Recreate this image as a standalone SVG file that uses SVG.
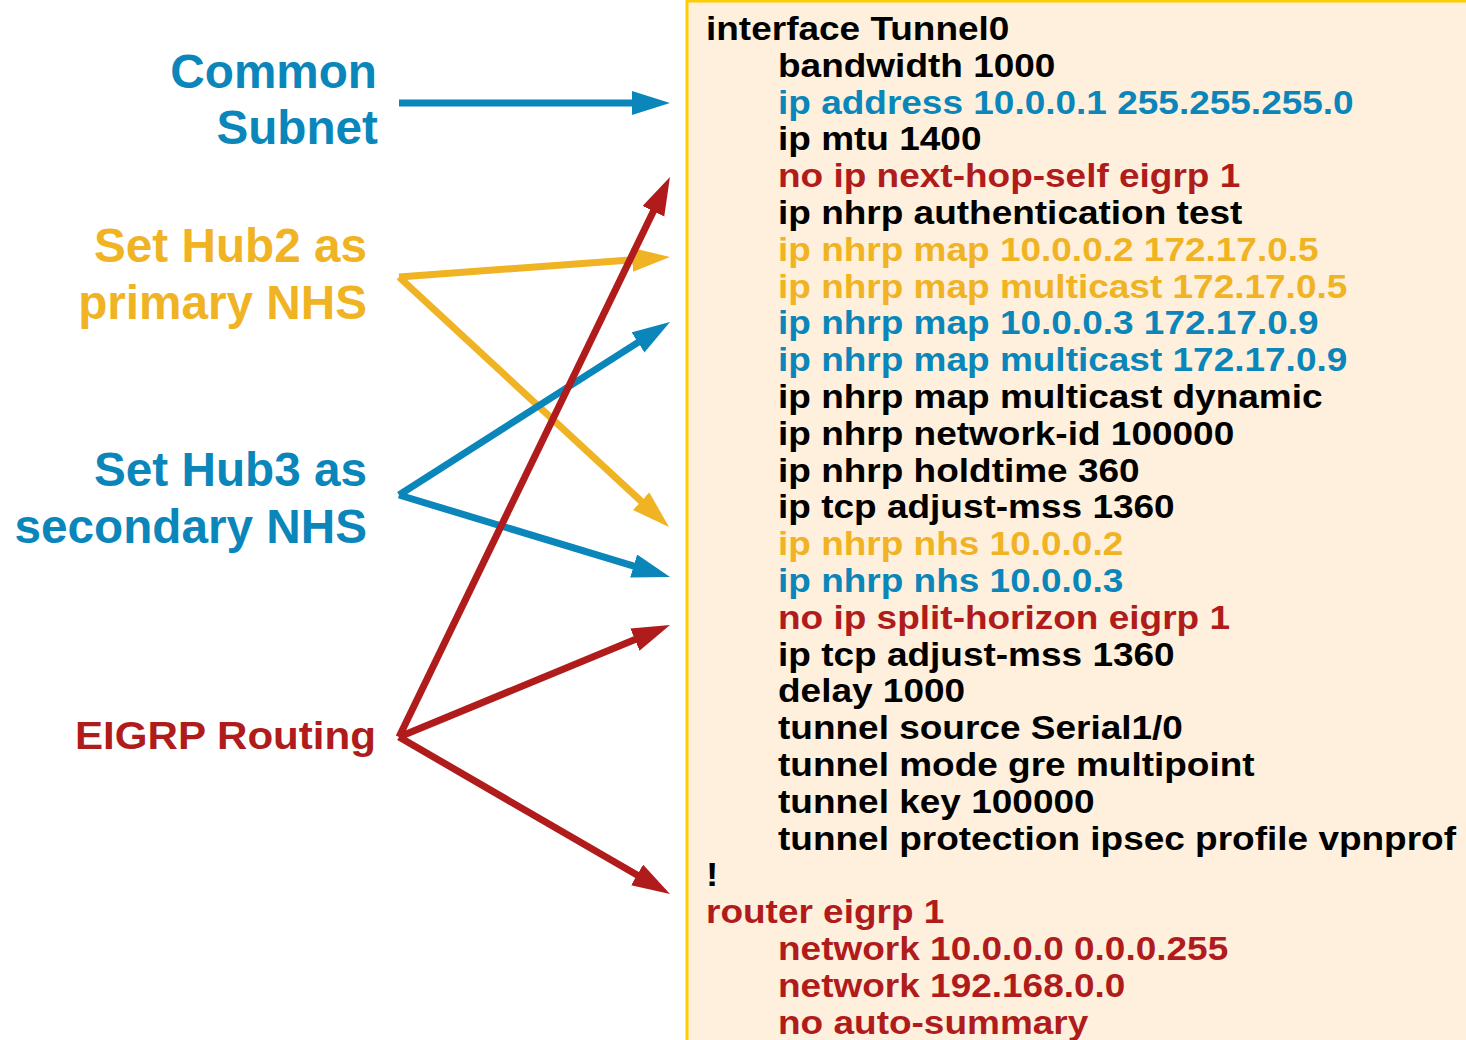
<svg xmlns="http://www.w3.org/2000/svg" width="1466" height="1040" viewBox="0 0 1466 1040">
<style>
text{font-family:"Liberation Sans",Arial,sans-serif;font-weight:bold}
.lbl{font-size:47.7px;text-anchor:end}
.cfg{font-size:34px}
.k{fill:#000}
.b{fill:#0A86BA}
.y{fill:#F0B323}
.r{fill:#B01B1B}
.ln{fill:none;stroke-width:7}
</style>
<defs>
<marker id="mb" markerUnits="userSpaceOnUse" markerWidth="40" markerHeight="26" refX="8" refY="12" orient="auto"><path d="M0,0 L38,12 L0,24 z" fill="#0A86BA"/></marker>
<marker id="my" markerUnits="userSpaceOnUse" markerWidth="40" markerHeight="26" refX="8" refY="12" orient="auto"><path d="M0,0 L38,12 L0,24 z" fill="#F0B323"/></marker>
<marker id="mr" markerUnits="userSpaceOnUse" markerWidth="40" markerHeight="26" refX="8" refY="12" orient="auto"><path d="M0,0 L38,12 L0,24 z" fill="#B01B1B"/></marker>
</defs>
<rect width="1466" height="1040" fill="#fff"/>
<g id="config-box">
<rect x="687" y="1" width="800" height="1100" fill="#FEF0DC" stroke="#FFCC00" stroke-width="3"/>
<g class="cfg" transform="matrix(1.088,0,0,1,0,0)">
<text x="648.9" y="40" class="k">interface Tunnel0</text>
<text x="715.1" y="76.8" class="k">bandwidth 1000</text>
<text x="715.1" y="113.6" class="b">ip address 10.0.0.1 255.255.255.0</text>
<text x="715.1" y="150.4" class="k">ip mtu 1400</text>
<text x="715.1" y="187.2" class="r">no ip next-hop-self eigrp 1</text>
<text x="715.1" y="224" class="k">ip nhrp authentication test</text>
<text x="715.1" y="260.8" class="y">ip nhrp map 10.0.0.2 172.17.0.5</text>
<text x="715.1" y="297.6" class="y">ip nhrp map multicast 172.17.0.5</text>
<text x="715.1" y="334.4" class="b">ip nhrp map 10.0.0.3 172.17.0.9</text>
<text x="715.1" y="371.2" class="b">ip nhrp map multicast 172.17.0.9</text>
<text x="715.1" y="408" class="k">ip nhrp map multicast dynamic</text>
<text x="715.1" y="444.8" class="k">ip nhrp network-id 100000</text>
<text x="715.1" y="481.6" class="k">ip nhrp holdtime 360</text>
<text x="715.1" y="518.4" class="k">ip tcp adjust-mss 1360</text>
<text x="715.1" y="555.2" class="y">ip nhrp nhs 10.0.0.2</text>
<text x="715.1" y="592" class="b">ip nhrp nhs 10.0.0.3</text>
<text x="715.1" y="628.8" class="r">no ip split-horizon eigrp 1</text>
<text x="715.1" y="665.6" class="k">ip tcp adjust-mss 1360</text>
<text x="715.1" y="702.4" class="k">delay 1000</text>
<text x="715.1" y="739.2" class="k">tunnel source Serial1/0</text>
<text x="715.1" y="776" class="k">tunnel mode gre multipoint</text>
<text x="715.1" y="812.8" class="k">tunnel key 100000</text>
<text x="715.1" y="849.6" class="k">tunnel protection ipsec profile vpnprof</text>
<text x="648.9" y="886.4" class="k">!</text>
<text x="648.9" y="923.2" class="r">router eigrp 1</text>
<text x="715.1" y="960" class="r">network 10.0.0.0 0.0.0.255</text>
<text x="715.1" y="996.8" class="r">network 192.168.0.0</text>
<text x="715.1" y="1033.6" class="r">no auto-summary</text>
</g>
</g>
<g id="label-common-subnet" class="lbl">
<text x="377" y="87.5" class="b">Common</text>
<text x="378" y="143.5" class="b">Subnet</text>
</g>
<g id="label-hub2" class="lbl">
<text x="367" y="262" class="y">Set Hub2 as</text>
<text x="367" y="319" class="y">primary NHS</text>
</g>
<g id="label-hub3" class="lbl">
<text x="367" y="486" class="b">Set Hub3 as</text>
<text x="367" y="543" class="b">secondary NHS</text>
</g>
<g id="label-eigrp">
<text x="75" y="748.5" class="r" font-size="39" textLength="301" lengthAdjust="spacingAndGlyphs">EIGRP Routing</text>
</g>
<g id="connectors">
<line class="ln" x1="399" y1="103" x2="640" y2="103" stroke="#0A86BA" marker-end="url(#mb)"/>
<line class="ln" x1="399" y1="277" x2="640.1" y2="259.2" stroke="#F0B323" marker-end="url(#my)"/>
<line class="ln" x1="399" y1="277" x2="647" y2="506.6" stroke="#F0B323" marker-end="url(#my)"/>
<line class="ln" x1="399" y1="495" x2="644.7" y2="338.1" stroke="#0A86BA" marker-end="url(#mb)"/>
<line class="ln" x1="399" y1="495" x2="641.3" y2="568.3" stroke="#0A86BA" marker-end="url(#mb)"/>
<line class="ln" x1="399" y1="737" x2="656.9" y2="204" stroke="#B01B1B" marker-end="url(#mr)"/>
<line class="ln" x1="399" y1="737" x2="642.3" y2="636.5" stroke="#B01B1B" marker-end="url(#mr)"/>
<line class="ln" x1="399" y1="737" x2="644" y2="879" stroke="#B01B1B" marker-end="url(#mr)"/>
</g>
</svg>
